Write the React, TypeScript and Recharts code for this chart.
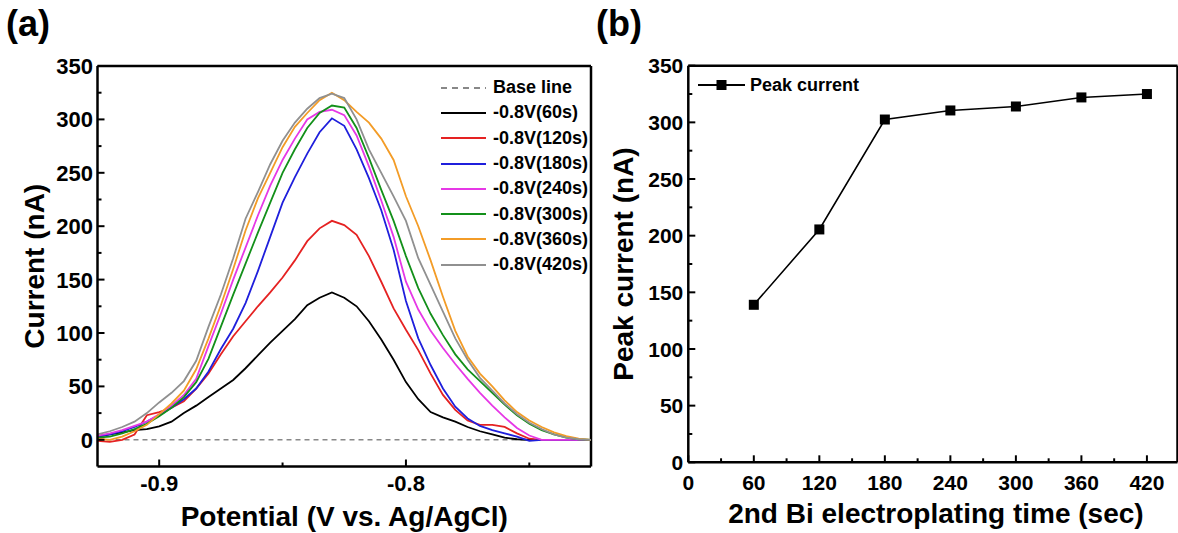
import React from 'react';
import { LineChart, Line, XAxis, YAxis, Legend, ReferenceLine } from 'recharts';

const FONT = '"Liberation Sans", Arial, Helvetica, sans-serif';

// ---------- Panel (a) data ----------
const potentials = [
  -0.925, -0.92, -0.915, -0.91, -0.905, -0.9, -0.895, -0.89, -0.885, -0.88,
  -0.875, -0.87, -0.865, -0.86, -0.855, -0.85, -0.845, -0.84, -0.835, -0.83,
  -0.825, -0.82, -0.815, -0.81, -0.805, -0.8, -0.795, -0.79, -0.785, -0.78,
  -0.775, -0.77, -0.765, -0.76, -0.755, -0.75, -0.745, -0.74, -0.735, -0.73,
  -0.725,
];
const baseLine = [
  0, 0, 0, 0, 0, 0, 0, 0, 0, 0, 0, 0, 0, 0, 0, 0, 0, 0, 0, 0, 0,
  0, 0, 0, 0, 0, 0, 0, 0, 0, 0, 0, 0, 0, 0, 0, 0, 0, 0, 0, 0,
];
const cur60 = [3, 5, 7, 9, 10, 12.5, 17, 25, 32, 40, 48, 56, 67, 79, 91, 102, 113, 126, 133, 138, 133, 125, 111, 94, 75, 54, 38, 26, 21, 17, 12, 8, 5, 2, 0.5, 0, 0, 0, 0, 0, 0];
const cur120 = [-1, -2, 0, 5, 23, 26, 30, 36, 48, 62, 80, 97, 111, 125, 138, 152, 168, 186, 198, 205, 201, 192, 172, 148, 123, 103, 84, 62, 42, 28, 18, 14, 14, 12, 6, 1, 0, 0, 0, 0, 0];
const cur180 = [3, 5, 8, 12, 17, 23, 30, 38, 48, 64, 85, 104, 128, 158, 190, 222, 246, 268, 288, 301, 294, 272, 245, 215, 178, 130, 95, 70, 48, 31, 20, 13, 9, 6, 3, -1, 0, 0, 0, 0, 0];
const cur240 = [4, 6, 9, 13, 17, 24, 32, 42, 57, 88, 118, 150, 180, 210, 238, 262, 282, 300, 307, 309, 304, 285, 256, 224, 190, 148, 122, 102, 86, 71, 57, 44, 32, 21, 11, 4, 0, 0, 0, 0, 0];
const cur300 = [2, 3, 6, 10, 15, 22, 30, 40, 54, 76, 106, 136, 165, 194, 222, 250, 272, 292, 306, 313, 311, 292, 264, 234, 205, 172, 142, 118, 98, 80, 66, 55, 44, 33, 23, 15, 9, 5, 2, 0.5, 0];
const cur360 = [1, 0, 3, 8, 14, 24, 34, 46, 66, 95, 126, 160, 196, 226, 250, 274, 293, 306, 318, 325, 318, 307, 297, 282, 262, 228, 200, 168, 134, 102, 78, 62, 50, 37, 26, 18, 12, 7, 3.5, 1, 0];
const cur420 = [5, 8, 12, 17, 25, 35, 44, 55, 74, 106, 136, 170, 207, 232, 258, 280, 297, 310, 320, 324, 320, 300, 272, 250, 228, 205, 170, 145, 120, 95, 75, 58, 46, 34, 24, 16, 10, 5, 2, 0.5, 0];

const seriesKeys = ['s60', 's120', 's180', 's240', 's300', 's360', 's420'];
const seriesNames = ['-0.8V(60s)', '-0.8V(120s)', '-0.8V(180s)', '-0.8V(240s)', '-0.8V(300s)', '-0.8V(360s)', '-0.8V(420s)'];
const seriesValues = [cur60, cur120, cur180, cur240, cur300, cur360, cur420];
const seriesColors = ['#000000', '#e52222', '#1f1fdc', '#e638e6', '#13901a', '#f39c27', '#909090'];

const leftYTicks = [0, 25, 50, 75, 100, 125, 150, 175, 200, 225, 250, 275, 300, 325, 350];
const leftXTicks = [-0.9, -0.85, -0.8, -0.75];

// ---------- Panel (b) data ----------
const times = [60, 120, 180, 240, 300, 360, 420];
const peakCurrent = [139, 205.5, 302.5, 310.5, 314, 322, 325];
const rightXTicks = [0, 30, 60, 90, 120, 150, 180, 210, 240, 270, 300, 330, 360, 390, 420];
const rightYTicks = [0, 25, 50, 75, 100, 125, 150, 175, 200, 225, 250, 275, 300, 325, 350];

const chartAData = potentials.map((p, i) => {
  const row: any = { p, base: baseLine[i] };
  seriesKeys.forEach((k, j) => {
    row[k] = seriesValues[j][i];
  });
  return row;
});
const chartBData = times.map((t, i) => ({ t, peak: peakCurrent[i] }));

// ---------- tick renderers ----------
const makeYTick = (labelGap: number, fs: number) => (props: any) => {
  const { x, y, payload } = props;
  const v = payload.value;
  const major = v % 50 === 0;
  return (
    <g>
      <line x1={x} x2={x + (major ? 7 : 4)} y1={y} y2={y} stroke="#000" strokeWidth={2} />
      {major && (
        <text x={x - labelGap} y={y} dy={fs * 0.36} textAnchor="end" fontSize={fs} fontWeight="bold" fontFamily={FONT} fill="#000">
          {v}
        </text>
      )}
    </g>
  );
};

const makeXTick = (isMajor: (v: number) => boolean, fmt: (v: number) => string, baseOff: number, fs: number) => (props: any) => {
  const { x, y, payload } = props;
  const v = payload.value;
  const major = isMajor(v);
  return (
    <g>
      <line x1={x} x2={x} y1={y} y2={y - (major ? 7 : 4)} stroke="#000" strokeWidth={2} />
      {major && (
        <text x={x} y={y + baseOff} textAnchor="middle" fontSize={fs} fontWeight="bold" fontFamily={FONT} fill="#000">
          {fmt(v)}
        </text>
      )}
    </g>
  );
};

const YTitle = (text: string, dx: number) => (props: any) => {
  const vb = props.viewBox || {};
  const cx = vb.x + vb.width - dx;
  const cy = vb.y + vb.height / 2;
  return (
    <text transform={`translate(${cx},${cy}) rotate(-90)`} x={0} y={0} textAnchor="middle" fontSize={28} fontWeight="bold" fontFamily={FONT} fill="#000">
      {text}
    </text>
  );
};

const XTitle = (text: string, dy: number, shift: number) => (props: any) => {
  const vb = props.viewBox || {};
  return (
    <text x={vb.x + vb.width / 2 + shift} y={vb.y + dy} textAnchor="middle" fontSize={28} fontWeight="bold" fontFamily={FONT} fill="#000">
      {text}
    </text>
  );
};

const LegendA = () => {
  const items = [{ name: 'Base line', color: '#888888', dash: true }].concat(
    seriesNames.map((n, i) => ({ name: n, color: seriesColors[i], dash: false }))
  );
  return (
    <div style={{ fontFamily: FONT, fontWeight: 'bold', fontSize: 18, color: '#000' }}>
      {items.map((it) => (
        <div key={it.name} style={{ height: 25.3, display: 'flex', alignItems: 'center' }}>
          <svg width={45} height={6} style={{ display: 'block' }}>
            <line x1={0} x2={45} y1={3} y2={3} stroke={it.color} strokeWidth={2} strokeDasharray={it.dash ? '6 5' : undefined} />
          </svg>
          <span style={{ marginLeft: 7, whiteSpace: 'nowrap' }}>{it.name}</span>
        </div>
      ))}
    </div>
  );
};

const LegendB = () => (
  <div style={{ fontFamily: FONT, fontWeight: 'bold', fontSize: 18, color: '#000', display: 'flex', alignItems: 'center', height: 24 }}>
    <svg width={47} height={12} style={{ display: 'block' }}>
      <line x1={0} x2={47} y1={6} y2={6} stroke="#000" strokeWidth={1.8} />
      <rect x={18.5} y={1} width={10} height={10} fill="#000" />
    </svg>
    <span style={{ marginLeft: 5, whiteSpace: 'nowrap' }}>Peak current</span>
  </div>
);

const SquareDot = (props: any) => {
  const { cx, cy, index } = props;
  if (cx == null || cy == null) return <g key={`d${index}`} />;
  return <rect key={`d${index}`} x={cx - 5} y={cy - 5} width={10} height={10} fill="#000" />;
};

const panelLabel: React.CSSProperties = {
  position: 'absolute',
  fontFamily: FONT,
  fontWeight: 'bold',
  fontSize: 36,
  lineHeight: '36px',
  color: '#000',
};

export default function App() {
  return (
    <div style={{ position: 'absolute', left: 0, top: 0, width: 1178, height: 533, background: '#fff', overflow: 'hidden' }}>
      <div style={{ ...panelLabel, left: 6, top: 6 }}>(a)</div>
      <div style={{ ...panelLabel, left: 596, top: 6 }}>(b)</div>

      <div style={{ position: 'absolute', left: 0, top: 0 }}>
        <LineChart width={600} height={533} data={chartAData} margin={{ top: 66, right: 9, bottom: 65.5, left: 96.5 }}>
          <XAxis
            dataKey="p"
            type="number"
            domain={[-0.925, -0.725]}
            ticks={leftXTicks}
            interval={0}
            height={1}
            tickSize={0}
            tickMargin={0}
            axisLine={{ stroke: '#000', strokeWidth: 2.5 }}
            tickLine={false}
            tick={makeXTick((v) => Math.abs(v * 10 - Math.round(v * 10)) < 1e-6, (v) => v.toFixed(1), 24, 22)}
            label={{ content: XTitle('Potential (V vs. Ag/AgCl)', 59, 0) } as any}
            allowDataOverflow
          />
          <YAxis
            type="number"
            domain={[-25, 350]}
            ticks={leftYTicks}
            interval={0}
            width={1}
            tickSize={0}
            tickMargin={0}
            axisLine={{ stroke: '#000', strokeWidth: 2.5 }}
            tickLine={false}
            tick={makeYTick(4.5, 22)}
            label={{ content: YTitle('Current (nA)', 54) } as any}
            allowDataOverflow
          />
          <ReferenceLine y={350} stroke="#000" strokeWidth={2.5} />
          <ReferenceLine x={-0.725} stroke="#000" strokeWidth={2.5} />
          <Line dataKey="base" name="Base line" stroke="#888888" strokeWidth={1.5} strokeDasharray="5 4" dot={false} type="linear" isAnimationActive={false} />
          {seriesKeys.map((k, i) => (
            <Line key={k} dataKey={k} name={seriesNames[i]} stroke={seriesColors[i]} strokeWidth={1.8} dot={false} type="linear" isAnimationActive={false} />
          ))}
          <Legend layout="vertical" align="center" verticalAlign="middle" wrapperStyle={{ left: 441, top: 75, width: 160 }} content={() => <LegendA />} />
        </LineChart>
      </div>

      <div style={{ position: 'absolute', left: 600, top: 0 }}>
        <LineChart width={578} height={533} data={chartBData} margin={{ top: 65.7, right: 0.5, bottom: 69.7, left: 87.3 }}>
          <XAxis
            dataKey="t"
            type="number"
            domain={[0, 448]}
            ticks={rightXTicks}
            interval={0}
            height={1}
            tickSize={0}
            tickMargin={0}
            axisLine={{ stroke: '#000', strokeWidth: 2.5 }}
            tickLine={false}
            tick={makeXTick((v) => v % 60 === 0, (v) => String(v), 27.5, 21)}
            label={{ content: XTitle('2nd Bi electroplating time (sec)', 61, 3) } as any}
            allowDataOverflow
          />
          <YAxis
            type="number"
            domain={[0, 350]}
            ticks={rightYTicks}
            interval={0}
            width={1}
            tickSize={0}
            tickMargin={0}
            axisLine={{ stroke: '#000', strokeWidth: 2.5 }}
            tickLine={false}
            tick={makeYTick(5, 21)}
            label={{ content: YTitle('Peak current (nA)', 55) } as any}
            allowDataOverflow
          />
          <ReferenceLine y={350} stroke="#000" strokeWidth={2.5} />
          <ReferenceLine x={448} stroke="#000" strokeWidth={2.5} />
          <Line dataKey="peak" name="Peak current" stroke="#000" strokeWidth={1.6} type="linear" dot={SquareDot} isAnimationActive={false} />
          <Legend layout="vertical" align="center" verticalAlign="middle" wrapperStyle={{ left: 98, top: 73, width: 200 }} content={() => <LegendB />} />
        </LineChart>
      </div>
    </div>
  );
}
